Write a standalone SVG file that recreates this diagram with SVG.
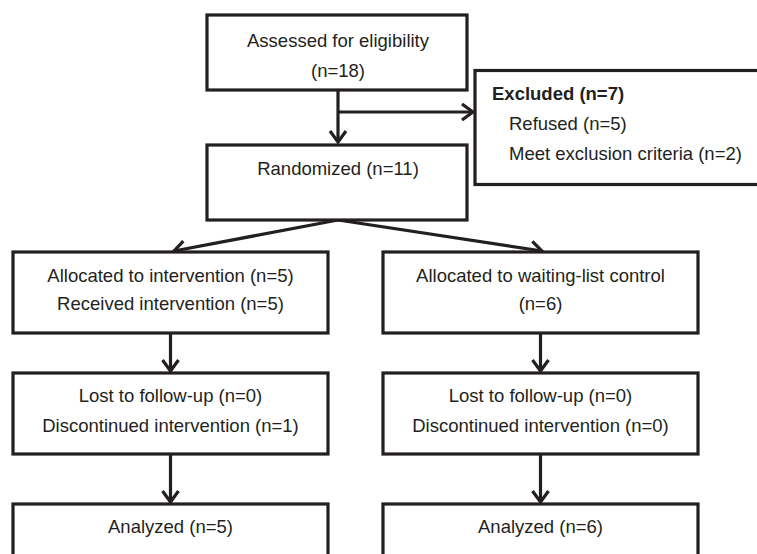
<svg xmlns="http://www.w3.org/2000/svg" width="757" height="554" viewBox="0 0 757 554">
<defs>
<style>
.box{fill:#fff;stroke:#231f20;stroke-width:3.2}
.t{font-family:"Liberation Sans",Arial,sans-serif;font-size:18.5px;fill:#231f20}
.c{text-anchor:middle}
.b{font-weight:bold}
.ln{fill:none;stroke:#231f20;stroke-width:3.2}
</style>
<marker id="ah" markerUnits="userSpaceOnUse" markerWidth="24" markerHeight="24" viewBox="-14 -12 24 24" refX="0" refY="0" orient="auto">
<path d="M-11,-8 L0,0 L-11,8" fill="none" stroke="#231f20" stroke-width="3.2"/>
</marker>
</defs>
<rect width="757" height="554" fill="#fff"/>
<g id="connectors">
<line class="ln" x1="338" y1="90" x2="338" y2="142" marker-end="url(#ah)"/>
<line class="ln" x1="338" y1="112" x2="473" y2="112" marker-end="url(#ah)"/>
<line class="ln" x1="338" y1="220" x2="174" y2="251" marker-end="url(#ah)"/>
<line class="ln" x1="338" y1="220" x2="542" y2="251" marker-end="url(#ah)"/>
<line class="ln" x1="170.5" y1="333" x2="170.5" y2="371" marker-end="url(#ah)"/>
<line class="ln" x1="540.5" y1="333" x2="540.5" y2="371" marker-end="url(#ah)"/>
<line class="ln" x1="170.5" y1="454" x2="170.5" y2="502" marker-end="url(#ah)"/>
<line class="ln" x1="540.5" y1="454" x2="540.5" y2="502" marker-end="url(#ah)"/>
</g>
<g id="assessed">
<rect class="box" x="207" y="15" width="260" height="75"/>
<text class="t c" x="338" y="47">Assessed for eligibility</text>
<text class="t c" x="338" y="77">(n=18)</text>
</g>
<g id="excluded">
<rect class="box" x="475" y="70.5" width="290" height="114"/>
<text class="t b" x="492" y="100">Excluded (n=7)</text>
<text class="t" x="509" y="130">Refused (n=5)</text>
<text class="t" x="509" y="160">Meet exclusion criteria (n=2)</text>
</g>
<g id="randomized">
<rect class="box" x="207" y="145" width="260" height="75"/>
<text class="t c" x="338" y="175">Randomized (n=11)</text>
</g>
<g id="alloc-int">
<rect class="box" x="13" y="252" width="315" height="81"/>
<text class="t c" x="170.5" y="282">Allocated to intervention (n=5)</text>
<text class="t c" x="170.5" y="310">Received intervention (n=5)</text>
</g>
<g id="alloc-wait">
<rect class="box" x="383" y="252" width="315" height="81"/>
<text class="t c" x="540.5" y="282">Allocated to waiting-list control</text>
<text class="t c" x="540.5" y="310">(n=6)</text>
</g>
<g id="lost-int">
<rect class="box" x="13" y="373" width="315" height="81"/>
<text class="t c" x="170.5" y="402">Lost to follow-up (n=0)</text>
<text class="t c" x="170.5" y="432">Discontinued intervention (n=1)</text>
</g>
<g id="lost-wait">
<rect class="box" x="383" y="373" width="315" height="81"/>
<text class="t c" x="540.5" y="402">Lost to follow-up (n=0)</text>
<text class="t c" x="540.5" y="432">Discontinued intervention (n=0)</text>
</g>
<g id="analyzed-int">
<rect class="box" x="13" y="504" width="315" height="70"/>
<text class="t c" x="170.5" y="533">Analyzed (n=5)</text>
</g>
<g id="analyzed-wait">
<rect class="box" x="383" y="504" width="315" height="70"/>
<text class="t c" x="540.5" y="533">Analyzed (n=6)</text>
</g>
</svg>
